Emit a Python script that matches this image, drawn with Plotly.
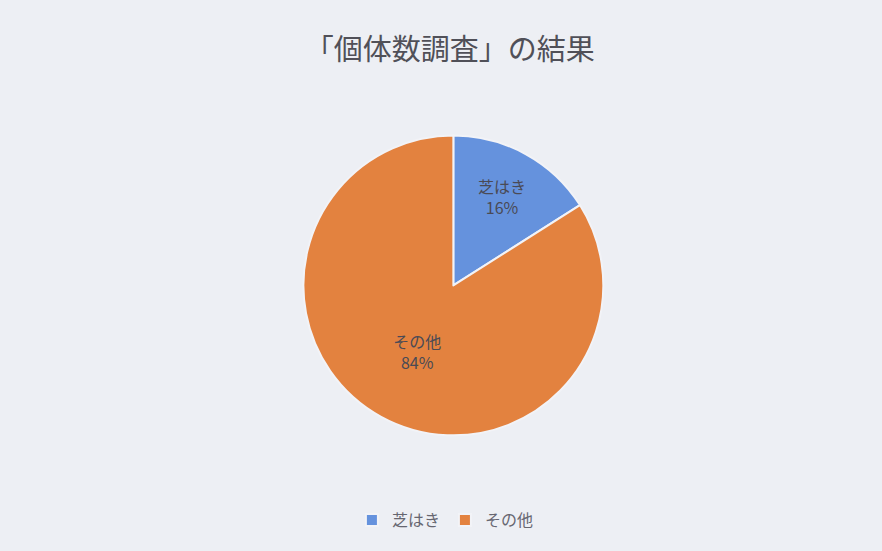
import plotly.graph_objects as go

labels = ["芝はき", "その他"]
values = [16, 84]
colors = ["#6592dd", "#e3823f"]

fig = go.Figure(go.Pie(
    labels=labels,
    values=values,
    sort=False,
    direction="clockwise",
    rotation=0,
    marker=dict(colors=colors, line=dict(color="#f2f3f7", width=2)),
    textinfo="label+percent",
    texttemplate="%{label}<br>%{percent:.0%}",
    textposition="inside",
    insidetextorientation="horizontal",
    textfont=dict(color="#4a4a55", size=16, family="Noto Sans CJK JP"),
    domain=dict(x=[0.344, 0.684], y=[0.205, 0.759]),
    hoverinfo="label+percent",
))

fig.update_layout(
    width=882, height=551,
    margin=dict(l=0, r=0, t=0, b=0),
    paper_bgcolor="#edeff4",
    plot_bgcolor="#edeff4",
    font=dict(family="Noto Sans CJK JP", color="#555"),
    title=dict(text="「個体数調査」の結果", x=0.51, xanchor="center",
               y=0.909, yanchor="middle",
               font=dict(size=29, color="#505058", family="Noto Sans CJK JP")),
    showlegend=True,
    legend=dict(orientation="h", x=0.505, xanchor="center", y=0.056, yanchor="middle",
                font=dict(size=16, color="#666670"), itemsizing="constant",
                bgcolor="rgba(0,0,0,0)"),
)

fig.write_html("out.html")
